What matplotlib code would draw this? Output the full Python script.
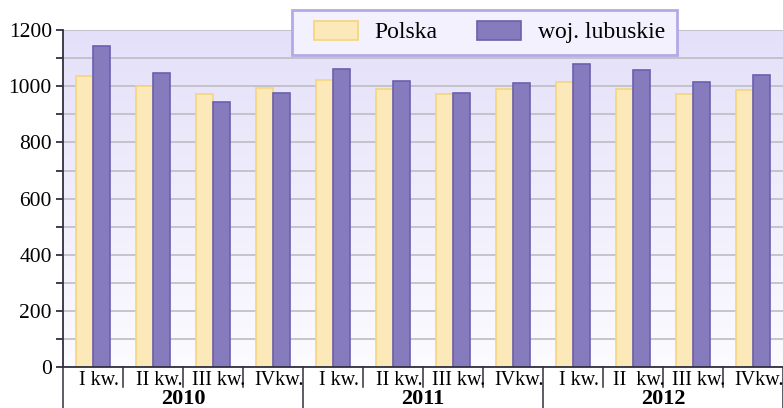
import numpy as np
import matplotlib
matplotlib.use("Agg")
import matplotlib.pyplot as plt
from matplotlib.colors import LinearSegmentedColormap
from matplotlib.patches import Rectangle
from matplotlib.transforms import blended_transform_factory

plt.rcParams['font.family'] = ['Liberation Serif', 'DejaVu Serif']

quarters = ["I kw.", "II kw.", "III kw.", "IVkw.",
            "I kw.", "II kw.", "III kw.", "IVkw.",
            "I kw.", "II  kw.", "III kw.", "IVkw."]
years = ["2010", "2011", "2012"]
polska = [1037, 999, 974, 993, 1021, 990, 974, 989, 1016, 989, 974, 987]
lubuskie = [1143, 1048, 945, 977, 1063, 1019, 977, 1012, 1080, 1058, 1016, 1040]

W, H = 783, 408
fig = plt.figure(figsize=(W / 100, H / 100), dpi=100)
ax = fig.add_axes([63 / W, 1 - 367.3 / H, 1 - 63 / W, (367.3 - 30) / H])

# tlo z gradientem
grad = LinearSegmentedColormap.from_list("bg", ["#fcfbff", "#e4e0f9"])
ax.imshow(np.linspace(0, 1, 256).reshape(-1, 1), aspect="auto", cmap=grad,
          origin="lower", extent=(-0.5, 11.5, 0, 1200), zorder=0)

x = np.arange(len(quarters))
w = 0.28
ax.bar(x - w / 2, polska, w, color="#fbe9b9", edgecolor="#f5d57c", linewidth=1.2,
       label="Polska", zorder=3)
ax.bar(x + w / 2, lubuskie, w, color="#857bbd", edgecolor="#6b60b0", linewidth=1.2,
       label="woj. lubuskie", zorder=3)

ax.set_xlim(-0.5, 11.5)
ax.set_ylim(0, 1200)
ax.set_yticks(range(0, 1201, 200))
ax.set_yticks(range(100, 1200, 200), minor=True)
ax.grid(True, axis="y", which="both", color="#bdbdc4", linewidth=1.2, zorder=1)
ax.tick_params(axis="y", which="both", direction="out", length=5, width=1.3,
               color="#303040", labelsize=15.5, pad=3)
ax.set_xticks([])
for s in ("top", "right"):
    ax.spines[s].set_visible(False)
for s in ("left", "bottom"):
    ax.spines[s].set_color("#303040")
    ax.spines[s].set_linewidth(1.3)
    ax.spines[s].set_zorder(4)

tr = blended_transform_factory(ax.transData, ax.transAxes)
for i in range(len(quarters) + 1):
    b = i - 0.5
    low = -0.122 if i % 4 == 0 else -0.057
    ax.plot([b, b], [0, low], transform=tr, color="#303040", lw=1.1, clip_on=False)
for i, q in enumerate(quarters):
    ax.text(i + 0.1, -0.038, q, transform=tr, ha="center", va="center", fontsize=14.5)
for j, yr in enumerate(years):
    ax.text(4 * j + 1.5, -0.095, yr, transform=tr, ha="center", va="center",
            fontsize=16, fontweight="bold")

# ramka legendy
frame = Rectangle((292 / W, 1 - 55 / H), 385 / W, 45 / H, transform=fig.transFigure,
                  facecolor="#f3f1fd", edgecolor="#b3aae6", linewidth=2, zorder=5)
fig.patches.append(frame)
leg = fig.legend(loc="center left", bbox_to_anchor=(314 / W, 1 - 32 / H), ncol=2,
                 fontsize=17, frameon=False, handlelength=1.85,
                 handleheight=0.85, columnspacing=1.7, borderpad=0,
                 handletextpad=0.7, borderaxespad=0)
leg.set_zorder(6)

fig.savefig("out.png", dpi=100)
